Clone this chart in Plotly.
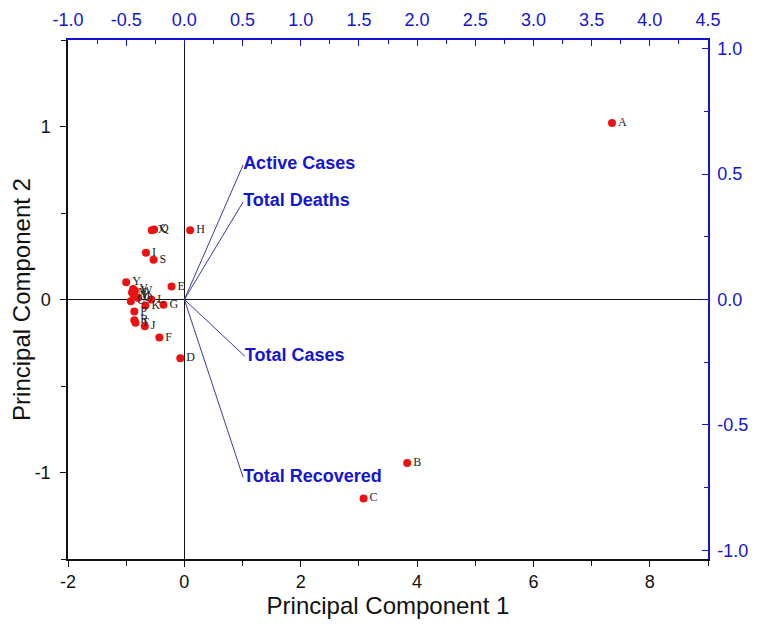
import plotly.graph_objects as go

# Scores (PC1, PC2)
score_labels = ["A", "B", "C", "D", "E", "F", "G", "H", "I", "J", "K", "L", "M",
                "N", "O", "P", "Q", "R", "S", "T", "U", "V", "W", "X", "Y"]
score_pc1 = [7.35, 3.83, 3.08, -0.07, -0.22, -0.43, -0.36, 0.10, -0.66, -0.68, -0.67, -0.57, -0.87,
             -0.90, -0.80, -0.86, -0.52, -0.86, -0.53, -0.84, -0.92, -0.88, -0.85, -0.56, -1.00]
score_pc2 = [1.02, -0.945, -1.15, -0.34, 0.075, -0.22, -0.03, 0.40, 0.27, -0.155, -0.035, 0.0, 0.02,
             0.04, 0.01, -0.07, 0.405, -0.12, 0.23, -0.135, -0.01, 0.06, 0.05, 0.40, 0.10]

# Loadings
var_names = ["Active Cases", "Total Deaths", "Total Cases", "Total Recovered"]
load_pc1 = [0.505, 0.505, 0.52, 0.505]
load_pc2 = [0.536, 0.389, -0.226, -0.709]

# Tick labels
x1_ticks = [-2, 0, 2, 4, 6, 8]
y1_ticks = [-1, 0, 1]
x2_ticks = [-1.0, -0.5, 0.0, 0.5, 1.0, 1.5, 2.0, 2.5, 3.0, 3.5, 4.0, 4.5]
y2_ticks = [-1.0, -0.5, 0.0, 0.5, 1.0]

BLUE = "#1414d4"
FONT = "Arial, Liberation Sans, sans-serif"

def fmt_int(v):
    return str(int(v))

def fmt_1f(v):
    return "%.1f" % v

fig = go.Figure()

fig.add_trace(go.Scatter(
    x=score_pc1, y=score_pc2, mode="markers+text", text=score_labels,
    textposition="middle right",
    textfont=dict(family="Liberation Serif, Times New Roman, serif", size=12, color="#222"),
    marker=dict(color="#ee1111", size=8),
    xaxis="x", yaxis="y", showlegend=False, cliponaxis=False,
))

lx, ly = [], []
for a, b in zip(load_pc1, load_pc2):
    lx += [0, a, None]
    ly += [0, b, None]
fig.add_trace(go.Scatter(
    x=lx, y=ly, mode="lines", line=dict(color="#3a3aa8", width=1),
    xaxis="x2", yaxis="y2", showlegend=False, hoverinfo="skip",
))
fig.add_trace(go.Scatter(
    x=load_pc1, y=load_pc2, mode="text", text=var_names,
    textposition="middle right",
    textfont=dict(family=FONT, size=18, color=BLUE, weight="bold"),
    xaxis="x2", yaxis="y2", showlegend=False, cliponaxis=False,
))

fig.update_layout(
    width=750, height=631,
    margin=dict(l=60, r=50, t=32, b=80),
    paper_bgcolor="white", plot_bgcolor="white",
    font=dict(family=FONT),
    xaxis=dict(
        range=[-2, 9], tickmode="array", tickvals=x1_ticks, ticktext=[fmt_int(v) for v in x1_ticks],
        showgrid=False, automargin=False,
        zeroline=True, zerolinecolor="#111", zerolinewidth=1.3,
        showline=True, linecolor="#111", linewidth=1.5,
        ticks="outside", ticklen=6, tickcolor="#111",
        minor=dict(dtick=1, tick0=0, ticks="outside", ticklen=5, tickcolor="#111"),
        tickfont=dict(size=18, color="#111"),
        title=dict(text="Principal Component 1", font=dict(size=24, color="#111"), standoff=4),
    ),
    yaxis=dict(
        range=[-1.5, 1.5], tickmode="array", tickvals=y1_ticks, ticktext=[fmt_int(v) for v in y1_ticks],
        showgrid=False, automargin=False,
        zeroline=True, zerolinecolor="#111", zerolinewidth=1.3,
        showline=True, linecolor="#111", linewidth=1.5,
        ticks="outside", ticklen=6, tickcolor="#111", ticklabelstandoff=6,
        minor=dict(dtick=0.5, tick0=0, ticks="outside", ticklen=5, tickcolor="#111"),
        tickfont=dict(size=18, color="#111"),
        title=dict(text="Principal Component 2", font=dict(size=24, color="#111"), standoff=4),
    ),
    xaxis2=dict(
        range=[-1, 4.5], tickmode="array", tickvals=x2_ticks, ticktext=[fmt_1f(v) for v in x2_ticks],
        overlaying="x", side="top", showgrid=False, zeroline=False, automargin=False,
        showline=True, linecolor=BLUE, linewidth=1.5,
        ticks="inside", ticklen=6, tickcolor=BLUE, ticklabelstandoff=5,
        minor=dict(dtick=0.25, tick0=0, ticks="inside", ticklen=4, tickcolor=BLUE),
        tickfont=dict(size=18, color=BLUE),
    ),
    yaxis2=dict(
        range=[-1.034, 1.034], tickmode="array", tickvals=y2_ticks, ticktext=[fmt_1f(v) for v in y2_ticks],
        overlaying="y", side="right", showgrid=False, zeroline=False, automargin=False,
        showline=True, linecolor=BLUE, linewidth=1.5,
        ticks="inside", ticklen=6, tickcolor=BLUE, ticklabelstandoff=4,
        minor=dict(dtick=0.25, tick0=0, ticks="inside", ticklen=4, tickcolor=BLUE),
        tickfont=dict(size=18, color=BLUE),
    ),
)

fig.write_html("out.html")
